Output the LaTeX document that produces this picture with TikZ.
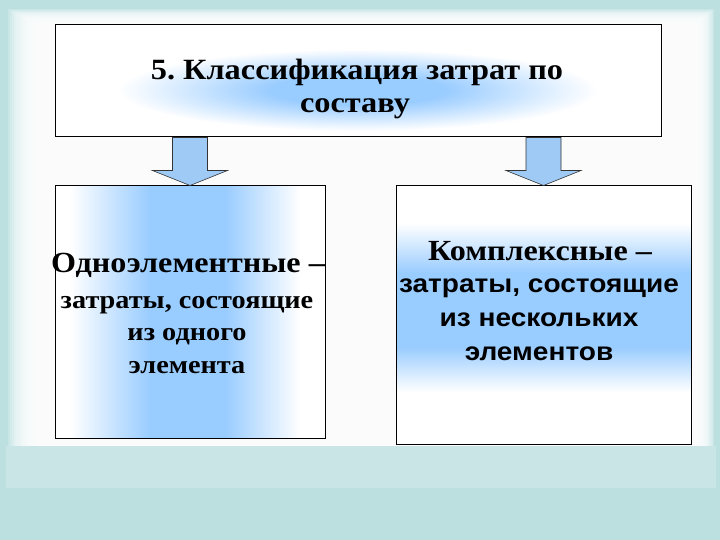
\documentclass[tikz,border=0pt]{standalone}
\usepackage{fontspec}
\setmainfont[FakeStretch=1.1]{Liberation Serif}
\setsansfont[FakeStretch=1.1]{Liberation Sans}
\usetikzlibrary{positioning,calc}

\definecolor{bgteal}{RGB}{188,223,224}
\definecolor{glowblue}{RGB}{153,204,255}
\definecolor{arrowblue}{RGB}{158,202,245}

% soft blue glow with a flat middle
\pgfdeclareradialshading{titleglow}{\pgfpoint{0bp}{0bp}}{color(0bp)=(glowblue); color(9bp)=(glowblue); color(25bp)=(white); color(50bp)=(white)}

\newcommand{\downblock}[2]{%
  \path [blockarrow] ($(#1)+(-17.5,0)$) -- ($(#2)+(-17.5,-15)$) -- ($(#2)+(-37.5,-15)$)
    -- (#2) -- ($(#2)+(37.5,-15)$) -- ($(#2)+(17.5,-15)$) -- ($(#1)+(17.5,0)$) -- cycle;}

\begin{document}
\frenchspacing
\begin{tikzpicture}[x=1pt, y=-1pt,
  box/.style={draw, line width=1pt, inner sep=0pt, fill=white},
  sideglow/.style={path picture={
    \coordinate (nw) at (path picture bounding box.north west);
    \coordinate (sw) at (path picture bounding box.south west);
    \shade [left color=white, right color=glowblue] ($(nw)+(15,0)$) rectangle ($(sw)+(95,0)$);
    \fill [glowblue] ($(nw)+(95,0)$) rectangle ($(sw)+(170,0)$);
    \shade [left color=glowblue, right color=white] ($(nw)+(170,0)$) rectangle ($(sw)+(245,0)$);}},
  bandglow/.style={path picture={
    \coordinate (nw) at (path picture bounding box.north west);
    \coordinate (ne) at (path picture bounding box.north east);
    \shade [top color=white, bottom color=glowblue] ($(nw)+(0,37)$) rectangle ($(ne)+(0,87)$);
    \fill [glowblue] ($(nw)+(0,87)$) rectangle ($(ne)+(0,161)$);
    \shade [top color=glowblue, bottom color=white] ($(nw)+(0,161)$) rectangle ($(ne)+(0,206)$);}},
  blockarrow/.style={fill=arrowblue, draw=black!80, line width=0.6pt, line join=miter},
  titleline/.style={font=\bfseries\fontsize{29.4}{30}\selectfont, anchor=base},
  headline/.style={font=\bfseries\fontsize{29.2}{30}\selectfont, anchor=base},
  serifline/.style={font=\bfseries\fontsize{25.7}{26}\selectfont, anchor=base},
  sansline/.style={font=\sffamily\bfseries\fontsize{25.5}{26}\selectfont, anchor=base}]
	\useasboundingbox (0,0) rectangle (720,540);
	% background
	\fill [bgteal] (0,0) rectangle (720,540);
	\fill [white, opacity=0.2] (6,446) rectangle (716,488);
	\foreach \i in {0,...,19}
		\fill [white, opacity=0.2] ({8+2.1*\i},{9+1.05*\i}) rectangle ({714-1.2*\i},446);

	% heading box
	\node (title) [box, minimum width=606pt, minimum height=112pt] at (358,81) {};
	\shade [shading=titleglow]
		($(title.center)+(-240,-32)$) rectangle ($(title.center)+(240,50)$);
	\node (head1) [titleline] at (357,80) {5. Классификация затрат по};
	\node (head2) [titleline] at (355,113) {составу};

	% the two kinds
	\node (one) [box, sideglow, minimum width=270pt, minimum height=252pt] at (190,312) {};
	\node (two) [box, bandglow, minimum width=295pt, minimum height=258pt] at (543.5,315) {};

	\node (onehead) [headline] at (188,272) {Одноэлементные –};
	\foreach \txt [count=\k] in {{затраты, состоящие}, из одного, элемента}
		\node (one\k) [serifline] at (187,{275.5+32.5*\k}) {\txt};

	\node (twohead) [headline] at (540,260) {Комплексные –};
	\foreach \txt [count=\k] in {{затраты, состоящие}, из нескольких, элементов}
		\node (two\k) [sansline] at (539,{258+34*\k}) {\txt};

	% arrows
	\downblock{title.south -| one.north}{one.north}
	\downblock{title.south -| two.north}{two.north}
\end{tikzpicture}
\end{document}
